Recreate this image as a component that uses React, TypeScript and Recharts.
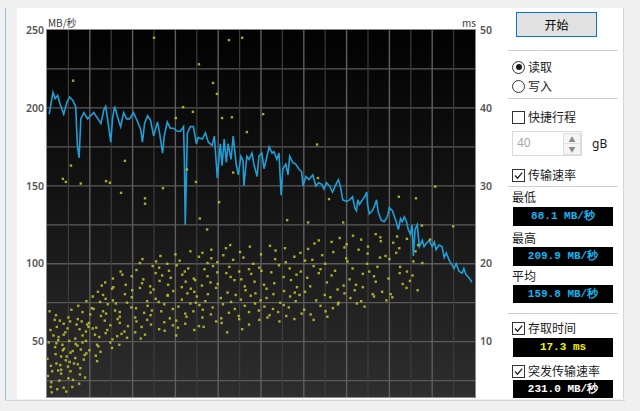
import React from "react";
import { ComposedChart, Line, Scatter, XAxis, YAxis, CartesianGrid } from "recharts";

// transfer rate: [position on disk %, MB/s]
const transferRate: [number, number][] = [
  [0.5, 196], [1.4, 209.9], [1.9, 206], [2.5, 208], [3.0, 203], [3.9, 196], [4.7, 204], [5.3, 207],
  [6.0, 205], [6.7, 201], [7.1, 176], [7.5, 168], [7.9, 193], [8.6, 197], [9.5, 193], [10.2, 195],
  [10.9, 197], [11.9, 193], [12.6, 190], [13.3, 199], [13.7, 201], [14.2, 192], [14.9, 178], [15.3, 193],
  [15.8, 201], [16.5, 194], [17.2, 188], [17.9, 197], [18.6, 193], [19.3, 193], [20.2, 197], [21.2, 191],
  [21.9, 186], [22.3, 178], [22.8, 190], [23.5, 195], [24.2, 192], [24.9, 182], [25.8, 191], [26.3, 184],
  [27.0, 171], [27.4, 182], [28.1, 191], [28.8, 187], [29.5, 187], [30.5, 185], [31.2, 185], [31.9, 188],
  [32.1, 166], [32.3, 125], [32.6, 160], [32.8, 184], [33.5, 188], [34.2, 188], [34.9, 177], [35.3, 181],
  [36.3, 180], [37.0, 184], [37.7, 178], [38.6, 176], [39.1, 182], [39.8, 155], [40.5, 177], [40.9, 163],
  [41.4, 180], [41.9, 165], [42.3, 177], [43.0, 167], [43.5, 182], [44.2, 164], [44.7, 157], [45.3, 169],
  [45.8, 166], [46.0, 150], [46.7, 169], [47.2, 167], [47.9, 171], [48.4, 163], [49.1, 156], [49.5, 169],
  [50.2, 171], [50.7, 161], [51.4, 169], [51.9, 175], [52.6, 171], [53.0, 172], [53.7, 167], [54.2, 171],
  [54.7, 144], [55.1, 161], [55.8, 164], [56.3, 157], [56.7, 169], [57.4, 165], [58.1, 164], [58.8, 161],
  [59.5, 159], [59.8, 150], [60.5, 156], [61.2, 154], [62.1, 157], [62.8, 150], [63.5, 152], [64.2, 151],
  [64.7, 148], [65.3, 152], [66.0, 150], [66.7, 146], [67.2, 149], [67.7, 152], [68.1, 154], [68.6, 149],
  [69.1, 141], [70.0, 140], [70.7, 141], [71.4, 143], [71.9, 136], [72.3, 134], [72.6, 141], [73.0, 138],
  [73.7, 141], [74.2, 143], [74.7, 146], [74.9, 138], [75.3, 132], [76.0, 134], [76.5, 137], [77.0, 141],
  [77.4, 133], [78.1, 128], [78.8, 127], [79.5, 130], [80.0, 136], [80.7, 134], [81.2, 130], [81.6, 127],
  [82.1, 122], [82.6, 129], [83.0, 127], [83.5, 130], [84.0, 127], [84.4, 122], [84.9, 119], [85.3, 125],
  [85.6, 105], [86.0, 122], [86.5, 125], [87.0, 111], [87.7, 115], [88.1, 111], [88.6, 113], [89.3, 115],
  [90.0, 111], [90.5, 114], [90.9, 109], [91.6, 112], [92.3, 111], [92.8, 104], [93.3, 107], [94.0, 102],
  [94.7, 99], [95.1, 97], [95.6, 100], [96.3, 95], [97.0, 94], [97.4, 97], [97.9, 93], [98.6, 91],
  [99.3, 88.1],
];

// access time samples: [position %, ms]
const accessStart: [number, number][] = [
  [0.9, 4.2], [0.1, 7.8], [0.8, 11.5], [0.2, 5.6], [1.9, 9.3], [1.1, 3.5], [1.8, 12.8], [0.9, 6.9], [2.0, 8.4], [1.0, 4.8],
  [2.7, 10.6], [2.2, 7.2], [2.1, 13.4], [3.3, 5.9], [2.2, 9.8], [3.3, 8.1], [2.3, 11.9], [3.3, 6.4], [3.9, 4.1], [2.6, 10.2],
  [4.4, 7.6], [3.9, 12.3], [3.7, 8.9], [5.0, 5.3], [3.9, 10.9], [4.9, 6.8], [4.0, 9.1], [5.0, 13.1], [5.3, 7.4], [4.3, 11.2],
  [6.1, 5.1], [5.5, 8.6], [5.4, 12.6], [6.7, 9.7], [5.5, 6.2], [6.6, 10.4], [5.7, 14.1], [6.6, 7.9], [7.6, 11.6], [6.0, 8.8],
  [7.7, 5.8], [7.2, 12.9], [7.1, 9.5], [8.3, 13.8], [7.2, 7.1], [8.3, 10.8], [7.3, 14.6], [8.8, 8.3], [9.1, 11.3], [7.8, 6.6],
  [9.4, 12.2], [8.3, 9.9], [9.2, 15.2], [8.6, 7.7], [10.1, 13.5], [9.1, 10.1], [9.2, 8.5], [10.5, 14.3], [2.9, 5.0], [4.5, 3.6],
  [0.4, 9.9], [1.5, 10.8], [2.6, 6.3], [3.0, 12.7], [4.8, 11.7], [5.9, 4.2], [6.9, 12.2], [0.6, 13.9], [3.6, 9.6], [7.9, 9.0],
  [8.9, 5.4], [2.4, 3.9], [5.2, 10.1], [6.3, 7.2], [9.7, 11.9], [1.2, 6.2], [4.6, 8.1], [7.5, 4.6], [3.1, 7.0], [8.1, 12.6],
  [10.7, 11.7], [9.9, 8.9], [10.7, 15.8], [9.8, 12.4], [11.7, 9.6], [10.9, 14.2], [11.7, 7.5], [11.9, 16.4], [11.2, 10.9], [12.6, 13.3],
  [11.4, 8.2], [12.4, 15.1], [11.5, 11.8], [12.8, 17.2], [12.0, 9.4], [13.1, 13.9], [12.2, 10.6], [13.1, 16.0], [13.5, 12.7], [12.5, 8.7],
  [14.2, 14.8], [13.7, 11.1], [13.6, 17.6], [14.8, 9.9], [13.7, 15.5], [14.8, 12.1], [13.8, 13.6], [15.3, 10.3], [15.2, 16.8], [14.1, 11.5],
  [15.9, 14.0], [15.4, 18.1], [15.2, 9.2], [16.5, 12.9], [15.4, 15.3], [16.4, 10.7], [15.5, 17.0], [17.0, 13.2], [17.4, 11.0], [16.1, 14.9],
  [17.6, 18.6], [17.0, 12.4], [16.9, 9.6], [18.2, 16.1], [17.0, 13.8], [18.1, 11.3], [17.2, 19.0], [18.7, 15.0], [18.9, 12.0], [18.4, 17.3],
  [19.7, 14.4], [18.7, 10.5], [19.9, 16.6],
];

const accessMiddle: [number, number][] = [
  [20.6, 13.1], [19.8, 18.4], [20.6, 11.2], [19.8, 15.7], [21.7, 20.1], [20.9, 12.6], [21.7, 16.9], [20.8, 14.3], [21.9, 10.4], [20.9, 19.2],
  [22.7, 13.7], [22.2, 17.5], [22.1, 11.9], [23.4, 15.2], [22.3, 20.6], [23.4, 12.8], [22.5, 18.0], [23.5, 14.6], [24.2, 16.3], [22.9, 10.9],
  [24.7, 19.7], [24.2, 13.4], [24.1, 17.1], [25.4, 15.5], [24.3, 12.2], [25.4, 18.8], [24.5, 14.0], [25.5, 20.3], [26.2, 11.6], [24.9, 16.7],
  [26.7, 13.9], [26.2, 19.5], [26.1, 15.1], [27.4, 12.5], [26.3, 17.8], [27.4, 14.8], [26.5, 21.0], [27.5, 11.4], [28.2, 16.0], [26.9, 18.5],
  [28.7, 13.0], [28.2, 15.9], [28.1, 20.0], [29.4, 12.1], [28.3, 17.3], [29.4, 14.2], [28.5, 19.1], [29.5, 16.5], [30.2, 10.8], [28.9, 18.2],
  [30.7, 14.5], [30.3, 19.8], [30.2, 12.7], [31.5, 17.0], [30.0, 21.2], [31.5, 15.4], [30.6, 11.8], [31.6, 18.6], [32.3, 13.6], [31.0, 20.4],
  [32.8, 16.2], [32.3, 12.3], [32.2, 19.0], [33.5, 14.9], [32.4, 17.7], [33.5, 21.6], [32.6, 13.2], [33.6, 16.8], [34.4, 11.5], [33.0, 19.4],
  [34.8, 15.0], [34.3, 18.1], [34.2, 13.9], [35.5, 20.9], [34.4, 16.4], [35.5, 12.0], [34.6, 17.9], [35.6, 14.7], [36.3, 21.4], [35.0, 15.8],
  [36.8, 19.3], [36.3, 13.1], [36.2, 17.2], [37.5, 20.1], [36.4, 14.1], [37.5, 18.4], [36.6, 11.9], [37.6, 16.1], [38.4, 21.8], [37.0, 15.2],
  [38.8, 19.7], [38.3, 13.5], [38.2, 17.6], [39.5, 12.6], [38.4, 20.7], [39.5, 16.9], [38.7, 14.4], [39.8, 18.9],
  [40.6, 15.6], [39.8, 20.2], [40.7, 13.0], [39.9, 17.4], [41.8, 22.0], [41.1, 14.8], [41.9, 18.8], [40.8, 12.4], [42.2, 16.3], [41.2, 21.1],
  [43.0, 15.1], [42.6, 19.6], [42.5, 13.7], [43.8, 17.9], [42.8, 22.4], [43.9, 14.2], [42.9, 18.3], [44.1, 16.0], [44.9, 12.9], [43.5, 20.5],
  [45.3, 15.4], [44.9, 19.0], [44.8, 13.3], [46.2, 17.1], [45.1, 21.5], [46.2, 14.6], [45.4, 18.0], [46.4, 16.6], [47.2, 12.2], [45.9, 20.8],
  [47.6, 15.9], [47.2, 19.3], [47.2, 13.8], [48.5, 17.7], [47.4, 22.2], [48.6, 14.9], [47.7, 18.7], [48.7, 16.2], [49.6, 12.8], [48.2, 20.0],
  [49.9, 15.3], [49.6, 19.5], [49.5, 14.0], [45.6, 11.6], [42.1, 11.2],
];

const accessEnd: [number, number][] = [
  [50.7, 17.3], [50.0, 21.2], [50.8, 14.5], [50.1, 19.1], [52.0, 13.4], [51.3, 16.8], [52.1, 22.3], [51.3, 15.6], [52.4, 18.9], [51.5, 13.1],
  [53.3, 20.6], [52.9, 16.1], [52.8, 14.2], [54.2, 19.8], [53.1, 17.5], [54.3, 12.6], [53.4, 21.7], [54.5, 15.0], [55.3, 18.3], [54.0, 13.8],
  [55.8, 20.2], [55.4, 16.5], [55.3, 14.7], [56.7, 19.4], [55.6, 22.0], [56.8, 15.8], [55.9, 13.3], [57.0, 17.9], [57.8, 20.9], [56.5, 14.4],
  [58.3, 18.6], [57.9, 16.3], [57.8, 12.9], [59.2, 21.4], [58.1, 15.2], [59.3, 19.0], [58.4, 17.0], [59.5, 13.6], [60.3, 20.4], [59.0, 16.0],
  [60.8, 18.2], [60.1, 14.1], [61.0, 21.9], [60.3, 16.4], [62.3, 19.7], [61.6, 13.5], [62.5, 22.6], [61.5, 17.1], [62.9, 15.3], [62.0, 20.5],
  [63.9, 14.6], [63.5, 18.8], [63.5, 23.0], [64.9, 16.0], [63.9, 19.3], [65.1, 13.9], [64.3, 21.1], [65.4, 17.6], [66.2, 15.7], [65.0, 20.0],
  [66.8, 14.3], [66.5, 22.8], [66.5, 18.5], [67.9, 16.7], [66.9, 21.5], [68.1, 15.0], [67.3, 19.1], [68.4, 23.3], [69.3, 17.2], [68.0, 14.8],
  [69.9, 20.7], [69.5, 16.2], [69.5, 22.1], [62.3, 12.8], [65.5, 13.2],
  [70.7, 18.0], [70.0, 22.5], [70.9, 15.6], [70.2, 20.3], [72.2, 17.3], [71.5, 23.6], [72.4, 14.9], [71.4, 19.4], [72.8, 21.8], [71.9, 16.6],
  [73.8, 18.7], [73.4, 15.2], [73.4, 23.1], [74.8, 20.0], [73.8, 17.0], [75.0, 22.2], [74.2, 14.5], [75.3, 19.0], [76.1, 16.1], [74.9, 21.3],
  [76.8, 23.8], [76.4, 18.4], [76.4, 15.8], [77.8, 20.8], [76.8, 17.7], [78.0, 22.9], [77.2, 19.6], [78.3, 16.4], [79.1, 21.0], [77.9, 23.4],
  [79.8, 18.1], [79.3, 15.3],
  [80.7, 15.7], [80.0, 20.6], [80.9, 22.7], [80.3, 16.1], [82.4, 18.8], [81.8, 23.5], [82.5, 19.6], [81.6, 21.4], [83.1, 17.4], [82.3, 22.0],
  [84.1, 19.0], [84.0, 16.9], [84.1, 23.2], [85.6, 20.3], [84.8, 17.8], [86.1, 21.6], [85.4, 18.5], [86.7, 22.4], [87.7, 20.1], [86.6, 16.6],
];

const accessOutliers: [number, number][] = [
  [25.0, 49.0], [42.5, 48.7], [45.6, 49.0], [35.5, 45.6], [6.1, 43.5], [38.8, 43.2], [39.7, 41.8], [31.8, 40.1],
  [34.1, 39.5], [43.2, 38.8], [40.9, 38.7], [46.7, 36.9], [30.1, 38.7], [5.6, 32.6], [3.7, 30.9], [4.4, 30.5],
  [7.9, 30.3], [13.8, 30.6], [14.7, 30.4], [18.2, 33.2], [17.3, 29.1], [22.9, 28.4], [22.9, 27.7], [27.1, 29.7],
  [32.7, 32.1], [50.5, 39.2], [63.1, 35.3], [34.8, 30.5], [40.2, 27.9], [35.7, 25.8], [56.1, 25.6], [61.0, 25.3],
  [37.4, 24.4], [65.9, 28.3], [43.5, 31.7], [63.3, 31.0], [90.7, 29.9], [82.2, 28.6], [86.2, 28.4], [69.2, 25.3],
  [94.9, 24.8], [87.6, 24.9], [89.5, 23.1],
];

const mbTicks = [50, 100, 150, 200, 250];
const msTicks = [10, 20, 30, 40, 50];
const mbGridValues = [25, 50, 75, 100, 125, 150, 175, 200, 225];
const posMajorGrid = [10, 20, 30, 40, 50, 60, 70, 80, 90];
const posMinorGrid = [5, 15, 25, 35, 45, 55, 65, 75, 85, 95];

const speedData = transferRate.map(([pos, mbs]) => ({ pos, mbs }));
const accessData = [...accessStart, ...accessMiddle, ...accessEnd, ...accessOutliers].map(([pos, ms]) => ({ pos, ms }));

const uiFont = '"Noto Sans CJK SC", "Noto Sans", sans-serif';

function Dot(props: any) {
  return <rect x={props.cx - 1.2} y={props.cy - 1.2} width={2.4} height={2.4} fill="#c4c42e" fillOpacity={0.85} />;
}

function Box({ checked, y, label }: { checked: boolean; y: number; label: string }) {
  return (
    <div style={{ position: "absolute", left: 512, top: y - 7, display: "flex", alignItems: "center", height: 14 }}>
      <div style={{ width: 11, height: 11, border: "1px solid #333", background: "#fff", position: "relative" }}>
        {checked && (
          <svg width="11" height="11" style={{ position: "absolute", left: 0, top: 0 }}>
            <polyline points="2,5.5 4.5,8.2 9.2,2.6" fill="none" stroke="#222" strokeWidth="1.3" />
          </svg>
        )}
      </div>
      <span style={{ marginLeft: 3, fontSize: 12, lineHeight: "14px", color: "#1a1a1a" }}>{label}</span>
    </div>
  );
}

function Radio({ selected, y, label }: { selected: boolean; y: number; label: string }) {
  return (
    <div style={{ position: "absolute", left: 512, top: y - 7, display: "flex", alignItems: "center", height: 14 }}>
      <div style={{ width: 11, height: 11, border: "1px solid #333", borderRadius: "50%", background: "#fff", position: "relative" }}>
        {selected && <div style={{ position: "absolute", left: 2.5, top: 2.5, width: 6, height: 6, borderRadius: "50%", background: "#1a1a1a" }} />}
      </div>
      <span style={{ marginLeft: 3, fontSize: 12, lineHeight: "14px", color: "#1a1a1a" }}>{label}</span>
    </div>
  );
}

function Caption({ y, text }: { y: number; text: string }) {
  return (
    <div style={{ position: "absolute", left: 512, top: y - 7, fontSize: 12, lineHeight: "14px", color: "#1a1a1a" }}>{text}</div>
  );
}

function Readout({ y, h, text, color }: { y: number; h: number; text: string; color: string }) {
  return (
    <div
      style={{
        position: "absolute", left: 513, top: y, width: 100, height: h, background: "#000",
        color, fontFamily: '"Liberation Mono", monospace', fontWeight: "bold", fontSize: 11,
        lineHeight: `${h}px`, textAlign: "center", whiteSpace: "pre",
      }}
    >
      {text}
    </div>
  );
}

function Separator({ y }: { y: number }) {
  return <div style={{ position: "absolute", left: 508, top: y, width: 110, height: 1, background: "#cfcfcf", borderBottom: "1px solid #fff" }} />;
}

export default function App() {
  return (
    <div style={{ position: "relative", width: 640, height: 411, background: "#f0f0f0", overflow: "hidden", fontFamily: uiFont }}>
      <style>{"body{margin:0}"}</style>
      <div style={{ position: "absolute", left: 5, top: 8, width: 1, height: 392, background: "#94c1ea" }} />
      <div style={{ position: "absolute", left: 5, top: 400, width: 620, height: 1, background: "#d6d6d6" }} />
      <div style={{ position: "absolute", left: 17, top: 8, width: 606, height: 391, background: "#fff", borderRight: "1px solid #d4d4d4" }} />

      {/* plot background */}
      <div
        style={{
          position: "absolute", left: 47, top: 30, width: 428, height: 367,
          background: "linear-gradient(#020202, #151515 50%, #2e2e2e)", boxShadow: "0 0 0 1px #8a8a8a",
        }}
      />
      <div style={{ position: "absolute", left: 48, top: 17, fontSize: 10, color: "#3a3a3a", lineHeight: "12px" }}>MB/秒</div>
      <div style={{ position: "absolute", left: 462, top: 17, fontSize: 10, color: "#3a3a3a", lineHeight: "12px" }}>ms</div>

      <div style={{ position: "absolute", left: 0, top: 0 }}>
        <ComposedChart width={520} height={411} margin={{ top: 30, right: 0, bottom: 14, left: 0 }}>
          <XAxis xAxisId="pos" type="number" dataKey="pos" domain={[0, 100]} hide allowDataOverflow />
          <YAxis
            yAxisId="mb" orientation="left" width={47} type="number" domain={[14.5, 250]} ticks={mbTicks}
            allowDataOverflow axisLine={false} tickLine={false} tickSize={0} tickMargin={3}
            tick={{ fill: "#555", fontSize: 10.5, fontFamily: '"Noto Sans", sans-serif', fontWeight: 600 }}
          />
          <YAxis
            yAxisId="ms" orientation="right" width={45} type="number" domain={[2.9, 50]} ticks={msTicks}
            allowDataOverflow axisLine={false} tickLine={false} tickSize={0} tickMargin={5}
            tick={{ fill: "#555", fontSize: 10.5, fontFamily: '"Noto Sans", sans-serif', fontWeight: 600 }}
          />
          <CartesianGrid xAxisId="pos" yAxisId="mb" vertical={false} horizontalValues={mbGridValues} stroke="#5a5a5a" strokeWidth={1.3} />
          <CartesianGrid xAxisId="pos" yAxisId="mb" horizontal={false} verticalValues={posMinorGrid} stroke="#3c3c3c" strokeWidth={1.2} />
          <CartesianGrid xAxisId="pos" yAxisId="mb" horizontal={false} verticalValues={posMajorGrid} stroke="#5e5e5e" strokeWidth={1.4} />
          <Scatter xAxisId="pos" yAxisId="ms" data={accessData} dataKey="ms" shape={Dot} isAnimationActive={false} />
          <Line
            xAxisId="pos" yAxisId="mb" data={speedData} dataKey="mbs" type="linear" stroke="#1f9fd6"
            strokeWidth={1.6} dot={false} activeDot={false} isAnimationActive={false}
          />
        </ComposedChart>
      </div>

      {/* control panel */}
      <div
        style={{
          position: "absolute", left: 516, top: 12, width: 79, height: 23, background: "#e1e1e1",
          border: "1px solid #0078d7", fontSize: 12, lineHeight: "23px", textAlign: "center", color: "#000",
        }}
      >
        开始
      </div>
      <Separator y={50} />
      <Radio selected y={67} label="读取" />
      <Radio selected={false} y={86} label="写入" />
      <Separator y={98} />
      <Box checked={false} y={117} label="快捷行程" />
      <div style={{ position: "absolute", left: 512, top: 131, width: 68, height: 23, border: "1px solid #d9d9d9", background: "#fff" }}>
        <span style={{ position: "absolute", left: 4, top: 3, fontSize: 12, lineHeight: "16px", color: "#a8a8a8", fontFamily: '"Noto Sans", sans-serif' }}>40</span>
        <div style={{ position: "absolute", left: 50, top: 1, width: 16, height: 10, background: "#f4f4f4", border: "1px solid #e0e0e0", fontSize: 7, lineHeight: "10px", textAlign: "center", color: "#8a8a8a" }}>▲</div>
        <div style={{ position: "absolute", left: 50, top: 11, width: 16, height: 10, background: "#f4f4f4", border: "1px solid #e0e0e0", fontSize: 7, lineHeight: "10px", textAlign: "center", color: "#8a8a8a" }}>▼</div>
      </div>
      <div style={{ position: "absolute", left: 592, top: 137, fontSize: 12, lineHeight: "14px", color: "#1a1a1a", fontFamily: '"Noto Sans", sans-serif' }}>gB</div>
      <Box checked y={175} label="传输速率" />
      <Separator y={186} />
      <Caption y={197} text="最低" />
      <Readout y={207} h={19} text="88.1 MB/秒" color="#14b4f0" />
      <Caption y={238} text="最高" />
      <Readout y={247} h={19} text="209.9 MB/秒" color="#14b4f0" />
      <Caption y={276} text="平均" />
      <Readout y={285} h={18} text="159.8 MB/秒" color="#14b4f0" />
      <Separator y={313} />
      <Box checked y={328} label="存取时间" />
      <Readout y={338} h={19} text="17.3 ms" color="#f2f200" />
      <Box checked y={371} label="突发传输速率" />
      <Readout y={380} h={18} text="231.0 MB/秒" color="#ffffff" />
    </div>
  );
}
